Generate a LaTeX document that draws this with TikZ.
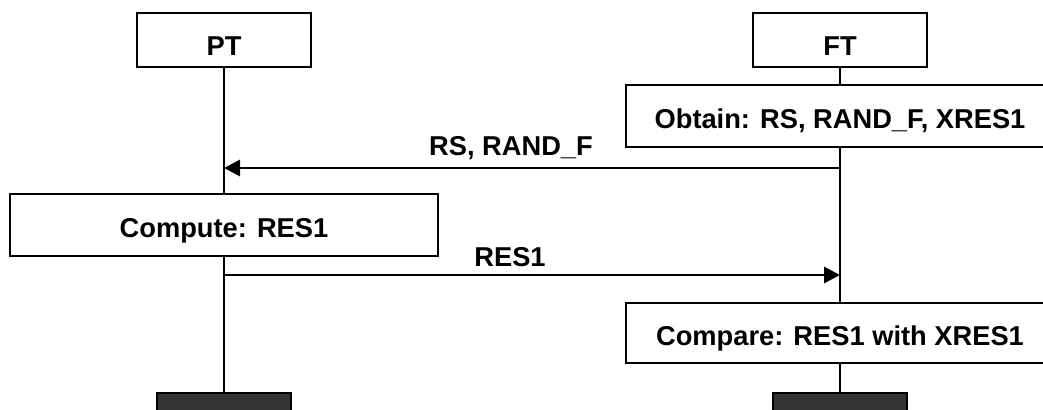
\documentclass[tikz,border=0pt]{standalone}
\usepackage{fontspec}
\setmainfont{Liberation Sans}
\usetikzlibrary{arrows.meta}

\begin{document}
\begin{tikzpicture}
  [x=0.25mm,y=-0.25mm,line width=1.05pt,
   every node/.style={draw,rectangle,inner ysep=1mm,font=\fontsize{19.4}{23}\selectfont\bfseries},
   actor/.style={minimum width=43.5mm,minimum height=13.5mm,text height=8.25mm,text depth=0.5mm},
   action/.style={minimum width=107mm,minimum height=15.5mm,text height=6.75mm,text depth=0.5mm},
   lifeend/.style={fill=black!80,minimum width=33.5mm,minimum height=8mm},
   msg/.style={line width=2.1pt,-{Triangle[length=4mm,width=4mm]}},
   msglabel/.style={draw=none,anchor=base}]
  \useasboundingbox (0,0) rectangle (1043,409);

  \node [actor] (pt) at (224,40) {PT};
  \node [actor] (ft) at (840,40) {FT};
  \node [action] (obtain) at (840,116) {Obtain: RS, RAND\_F, XRES1};
  \node [action] (compute) at (224,225) {Compute: RES1};
  \node [action,minimum height=15mm] (compare) at (840,333) {Compare: RES1 with XRES1};
  \node [lifeend] (ptend) at (224,409) {};
  \node [lifeend] (ftend) at (840,409) {};

  \foreach \from/\to in {pt/compute,compute/ptend,ft/obtain,obtain/compare,compare/ftend}
    \draw (\from.south) -- (\to.north);

  \coordinate (ftrs) at (840,168);
  \coordinate (ptrs) at (224,168);
  \coordinate (ptres) at (224,275);
  \coordinate (ftres) at (840,275);
  \draw [msg] (ftrs) -- (ptrs);
  \draw [msg] (ptres) -- (ftres);
  \node [msglabel] (rslabel) at (511,155) {RS, RAND\_F};
  \node [msglabel] (reslabel) at (510,266) {RES1};

\end{tikzpicture}
\end{document}
